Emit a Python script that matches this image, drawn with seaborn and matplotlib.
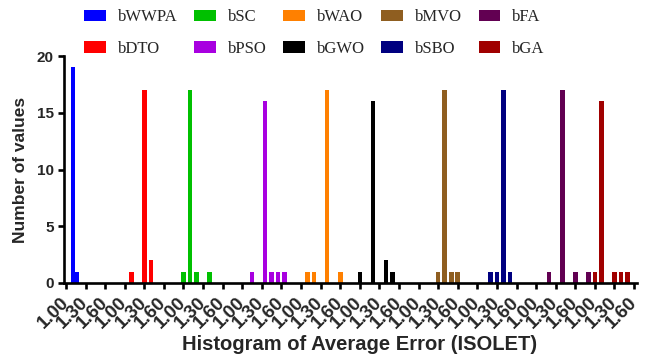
import matplotlib
matplotlib.use("Agg")
import matplotlib.pyplot as plt
from matplotlib.patches import Patch
import seaborn as sns
import pandas as pd

# Algorithms, in legend order
algorithms = ["bWWPA", "bDTO", "bSC", "bPSO", "bWAO",
              "bGWO", "bMVO", "bSBO", "bFA", "bGA"]

# Histogram bin centres (average error) and counts for each algorithm
bin_centres = {
    "bWWPA": [1.105, 1.165],
    "bDTO":  [1.10, 1.30, 1.40],
    "bSC":   [1.00, 1.10, 1.20, 1.40],
    "bPSO":  [1.15, 1.35, 1.45, 1.55, 1.65],
    "bWAO":  [1.10, 1.20, 1.40, 1.60],
    "bGWO":  [1.00, 1.20, 1.40, 1.50],
    "bMVO":  [1.30, 1.40, 1.50, 1.60],
    "bSBO":  [1.20, 1.30, 1.40, 1.50],
    "bFA":   [1.20, 1.40, 1.60, 1.80],
    "bGA":   [1.00, 1.10, 1.30, 1.40, 1.50],
}
bin_counts = {
    "bWWPA": [19, 1],
    "bDTO":  [1, 17, 2],
    "bSC":   [1, 17, 1, 1],
    "bPSO":  [1, 16, 1, 1, 1],
    "bWAO":  [1, 1, 17, 1],
    "bGWO":  [1, 16, 2, 1],
    "bMVO":  [1, 17, 1, 1],
    "bSBO":  [1, 1, 17, 1],
    "bFA":   [1, 17, 1, 1],
    "bGA":   [1, 16, 1, 1, 1],
}
bin_widths = [0.06, 0.1, 0.1, 0.1, 0.1, 0.1, 0.1, 0.1, 0.1, 0.1]

# Tick labels repeated for every algorithm's panel
tick_values = [1.00, 1.30, 1.60]
tick_labels = ["1.00", "1.30", "1.60"]

colors = ["#0000FF", "#FF0000", "#00C000", "#A800E0", "#FF8000",
          "#000000", "#8F5E20", "#000080", "#620052", "#A00000"]

sns.set_theme(style="ticks")
plt.rcParams["font.family"] = ["Liberation Sans", "DejaVu Sans"]

rows = []
for i, alg in enumerate(algorithms):
    for v, c in zip(bin_centres[alg], bin_counts[alg]):
        rows.append({"algorithm": alg, "value": v, "count": c,
                     "panel": i, "binwidth": bin_widths[i]})
df = pd.DataFrame(rows)

step = tick_values[1] - tick_values[0]
per_panel = len(tick_values)
# each algorithm occupies its own stretch of the axis, one tick unit = 0.30
df["pos"] = df["panel"] * per_panel + (df["value"] - tick_values[0]) / step
df["barw"] = df["binwidth"].clip(upper=0.07) / step

fig = plt.figure(figsize=(6.45, 3.58), dpi=100)
ax = fig.add_axes([64 / 645, 75 / 358, 573 / 645, 227 / 358])

palette = dict(zip(algorithms, colors))
for alg, sub in df.groupby("algorithm", sort=False):
    ax.bar(sub["pos"], sub["count"], width=sub["barw"],
           color=palette[alg], linewidth=0, align="center")

n_ticks = len(algorithms) * per_panel
ax.set_xlim(-0.10, n_ticks - 1 + 0.15)
ax.set_ylim(0, 20)
ax.set_xticks(range(n_ticks))
ax.set_xticklabels(tick_labels * len(algorithms), rotation=45,
                   ha="right", va="center", rotation_mode="anchor",
                   fontsize=13.5, fontweight="bold")
ax.set_yticks([0, 5, 10, 15, 20])
ax.set_yticklabels(["0", "5", "10", "15", "20"], fontsize=11,
                   fontweight="bold")
ax.tick_params(axis="both", width=1.9, length=4.5, color="black", pad=3)
ax.tick_params(axis="x", pad=8)

for side in ["left", "bottom"]:
    ax.spines[side].set_linewidth(1.9)
    ax.spines[side].set_color("black")
sns.despine(ax=ax)

ax.set_xlabel("Histogram of Average Error (ISOLET)", fontsize=14.5,
              fontweight="bold")
ax.xaxis.set_label_coords(0.515, -0.228)
ax.set_ylabel("Number of values", fontsize=12.5, fontweight="bold",
              labelpad=6)

handles = [Patch(facecolor=c, edgecolor="none") for c in colors]
fig.legend(handles, algorithms, loc="upper left",
           bbox_to_anchor=(84 / 645, 1 - 9 / 358), ncol=5, frameon=False,
           borderpad=0, borderaxespad=0, handlelength=1.3,
           handleheight=0.65, handletextpad=0.72, columnspacing=1.0,
           labelspacing=0.95,
           prop={"family": "Liberation Serif", "size": 12})

fig.savefig("out.png", dpi=100)
